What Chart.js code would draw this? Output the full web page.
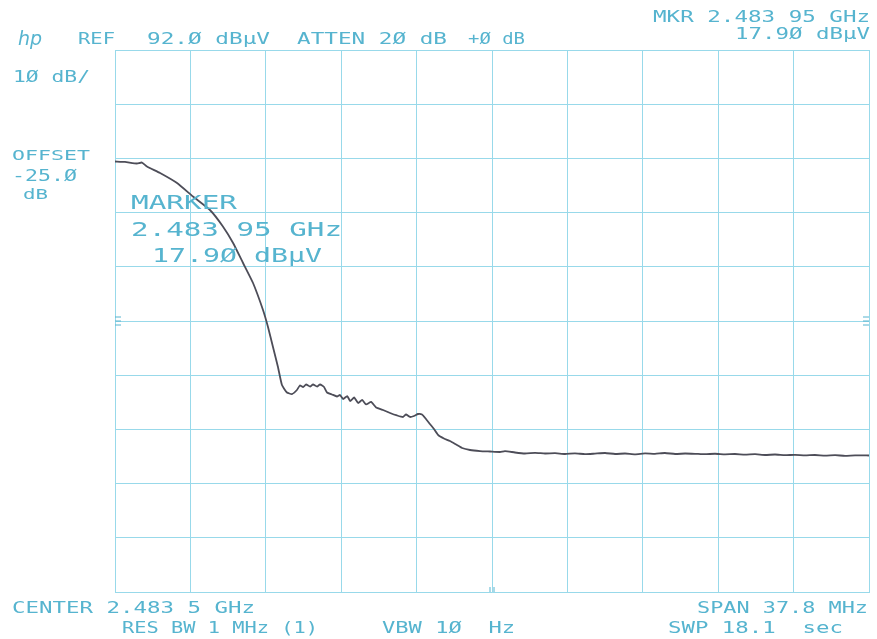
<!DOCTYPE html>
<html>
<head>
<meta charset="utf-8">
<script src="https://cdn.jsdelivr.net/npm/chart.js@4.4.1/dist/chart.umd.min.js"></script>
<style>
  html, body { margin: 0; padding: 0; background: #ffffff; }
  #wrap { width: 877px; height: 639px; position: relative; }
</style>
</head>
<body>
<div id="wrap"><canvas id="c" width="877" height="639"></canvas></div>
<script>
// ---- data (frequency in MHz, level in dBµV) ----
const freqMHz = [
  2464.60, 2465.10, 2465.70, 2465.95, 2466.20, 2466.86, 2467.71, 2468.51, 2469.36, 2470.01,
  2470.52, 2471.02, 2471.52, 2472.02, 2472.27, 2472.52, 2472.77, 2472.97, 2473.22, 2473.47,
  2473.72, 2473.87, 2474.03, 2474.18, 2474.38, 2474.53, 2474.73, 2474.88, 2475.08, 2475.23,
  2475.48, 2475.73, 2475.88, 2476.04, 2476.24, 2476.39, 2476.59, 2476.79, 2476.99, 2477.19,
  2477.44, 2477.69, 2478.04, 2478.39, 2478.74, 2479.04, 2479.19, 2479.39, 2479.59, 2479.79,
  2479.99, 2480.19, 2480.39, 2480.59, 2480.80, 2481.09, 2481.39, 2481.70, 2482.00, 2482.40,
  2482.90, 2483.40, 2483.90, 2484.15, 2484.65, 2485.15, 2485.66, 2486.16, 2486.66, 2487.16,
  2487.66, 2488.16, 2488.66, 2489.17, 2489.67, 2490.17, 2490.67, 2491.17, 2491.67, 2492.17,
  2492.68, 2493.18, 2493.68, 2494.18, 2494.68, 2495.18, 2495.68, 2496.18, 2496.69, 2497.19,
  2497.69, 2498.19, 2498.69, 2499.19, 2499.69, 2500.20, 2500.70, 2501.20, 2501.70, 2502.40
];
const levelDbuV = [
  71.43, 71.34, 71.06, 71.24, 70.51, 69.31, 67.46, 64.97, 62.48, 59.44,
  56.39, 52.70, 49.01, 44.03, 40.89, 37.20, 33.51, 30.19, 28.81, 28.53,
  29.27, 30.10, 29.82, 30.28, 29.91, 30.28, 29.91, 30.28, 29.82, 28.81,
  28.44, 28.07, 28.35, 27.61, 28.16, 27.24, 27.89, 26.87, 27.43, 26.60,
  27.06, 26.04, 25.58, 25.03, 24.57, 24.29, 24.75, 24.29, 24.47, 24.84,
  24.75, 23.92, 22.99, 22.07, 20.97, 20.32, 19.86, 19.21, 18.57, 18.20,
  18.01, 17.92, 17.83, 18.01, 17.74, 17.55, 17.68, 17.55, 17.61, 17.46,
  17.59, 17.42, 17.53, 17.65, 17.46, 17.55, 17.40, 17.57, 17.50, 17.65,
  17.46, 17.55, 17.50, 17.42, 17.51, 17.40, 17.46, 17.35, 17.42, 17.28,
  17.37, 17.24, 17.31, 17.20, 17.28, 17.16, 17.24, 17.13, 17.22, 17.18
];
const centerMHz = 2483.5;
const spanMHz = 37.8;
const refLevel = 92.0;
const dbPerDiv = 10;
const divisions = 10;

// ---- styling ----
const TEXT = '#56b4cf';
const GRID = '#98d9ea';
const TRACE = '#4d4d58';

const xMin = centerMHz - spanMHz / 2;
const xMax = centerMHz + spanMHz / 2;
const yMax = refLevel;
const yMin = refLevel - dbPerDiv * divisions;

// text annotations: [text, x0, x1, yTop, yBottom]
const notes = [
  ['REF', 78, 115, 33, 44],
  ['92.Ø dBµV', 147, 270, 33, 44],
  ['ATTEN 2Ø dB', 297, 447, 33, 44],
  ['+Ø dB', 468, 525, 33, 44],
  ['MKR 2.483 95 GHz', 653, 870, 11, 22],
  ['17.9Ø dBµV', 735, 870, 28, 39],
  ['1Ø dB/', 13, 90, 71, 82],
  ['OFFSET', 12, 90, 150, 160],
  ['-25.Ø', 12, 77, 170, 181],
  ['dB', 23, 48, 189, 199],
  ['MARKER', 131, 237, 195, 209],
  ['2.483 95 GHz', 131, 342, 222, 236],
  ['17.9Ø dBµV', 152, 322, 248, 262],
  ['CENTER 2.483 5 GHz', 12, 255, 602, 613],
  ['RES BW 1 MHz (1)', 122, 318, 622, 633],
  ['VBW 1Ø  Hz', 382, 515, 622, 633],
  ['SPAN 37.8 MHz', 697, 868, 602, 613],
  ['SWP 18.1  sec', 668, 843, 622, 633]
];

const textPlugin = {
  id: 'hpText',
  afterDraw(chart) {
    const ctx = chart.ctx;
    ctx.save();
    ctx.fillStyle = TEXT;
    ctx.textBaseline = 'alphabetic';
    ctx.textAlign = 'left';
    for (const [t, x0, x1, yT, yB] of notes) {
      const h = yB - yT;
      const fs = h / 0.73;
      ctx.font = fs.toFixed(1) + 'px "DejaVu Sans Mono"';
      const w = ctx.measureText(t).width;
      ctx.save();
      ctx.translate(x0, yB);
      ctx.scale((x1 - x0) / w, 1);
      ctx.fillText(t, 0, 0);
      ctx.restore();
    }
    // hp logo
    ctx.font = 'italic 19px "DejaVu Sans"';
    ctx.fillText('hp', 18, 45);
    // reference-level markers at both edges
    ctx.strokeStyle = TEXT;
    ctx.lineWidth = 1;
    const area = chart.chartArea;
    const ymid = chart.scales.y.getPixelForValue(yMax - dbPerDiv * 5);
    for (const dy of [-4, 0, 4]) {
      ctx.beginPath(); ctx.moveTo(area.left, ymid + dy); ctx.lineTo(area.left + 6, ymid + dy); ctx.stroke();
      ctx.beginPath(); ctx.moveTo(area.right - 6, ymid + dy); ctx.lineTo(area.right, ymid + dy); ctx.stroke();
    }
    const xc = chart.scales.x.getPixelForValue(centerMHz);
    ctx.beginPath(); ctx.moveTo(xc - 2, area.bottom - 5); ctx.lineTo(xc - 2, area.bottom); ctx.stroke();
    ctx.beginPath(); ctx.moveTo(xc + 2, area.bottom - 5); ctx.lineTo(xc + 2, area.bottom); ctx.stroke();
    ctx.restore();
  }
};

new Chart(document.getElementById('c'), {
  type: 'line',
  data: {
    datasets: [{
      data: freqMHz.map((f, i) => ({ x: f, y: levelDbuV[i] })),
      borderColor: TRACE,
      borderWidth: 1.8,
      pointRadius: 0,
      tension: 0.15,
      fill: false
    }]
  },
  options: {
    responsive: false,
    animation: false,
    devicePixelRatio: 1,
    layout: { padding: { left: 115, right: 8, top: 50, bottom: 47 } },
    plugins: { legend: { display: false }, tooltip: { enabled: false } },
    scales: {
      x: {
        type: 'linear', min: xMin, max: xMax,
        afterBuildTicks(s) { s.ticks = Array.from({ length: divisions + 1 }, (_, i) => ({ value: xMin + i * spanMHz / divisions })); },
        ticks: { display: false },
        grid: { color: GRID, lineWidth: 1, drawTicks: false },
        border: { display: true, color: GRID, width: 1 }
      },
      y: {
        type: 'linear', min: yMin, max: yMax,
        afterBuildTicks(s) { s.ticks = Array.from({ length: divisions + 1 }, (_, i) => ({ value: yMin + i * dbPerDiv })); },
        ticks: { display: false },
        grid: { color: GRID, lineWidth: 1, drawTicks: false },
        border: { display: true, color: GRID, width: 1 }
      }
    }
  },
  plugins: [textPlugin]
});
</script>
</body>
</html>
